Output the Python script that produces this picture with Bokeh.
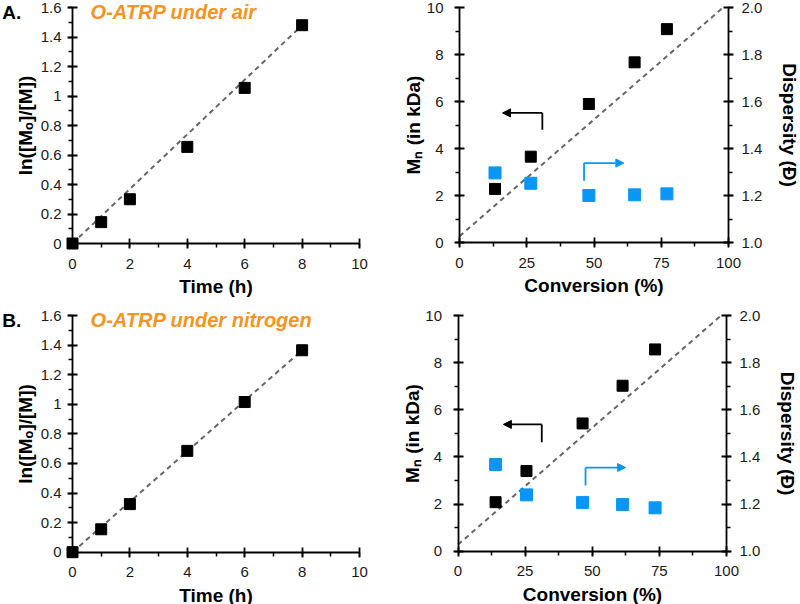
from bokeh.plotting import figure
from bokeh.models import (Range1d, LinearAxis, SingleIntervalTicker, CustomJSTickFormatter,
                          Label, Arrow, NormalHead)
from bokeh.layouts import column, row
from bokeh.embed import file_html
from bokeh.resources import INLINE

FONT = "Liberation Sans"
ORANGE = "#F7931E"
BLUE = "#0A96F5"

# ---------------- data ----------------
time_h = [0, 1, 2, 4, 6, 8]
ln_air = [0, 0.145, 0.30, 0.655, 1.055, 1.48]
ln_n2 = [0, 0.155, 0.325, 0.685, 1.015, 1.365]
fit_time = [0, 8]
fit_ln_air = [0, 1.48]
fit_ln_n2 = [0, 1.365]

conv_air = [13.2, 26.5, 48.1, 65.1, 77.1]
mn_air = [2.29, 3.66, 5.90, 7.67, 9.08]
disp_air = [1.297, 1.253, 1.201, 1.204, 1.208]

conv_n2 = [14.0, 25.5, 46.4, 61.3, 73.4]
mn_n2 = [2.08, 3.40, 5.42, 7.02, 8.56]
disp_n2 = [1.368, 1.239, 1.207, 1.198, 1.184]

theory_conv = [0, 98]
theory_mn = [0.28, 10.0]

# arrows: [x_corner, x_tip, y_corner, y_other_end]
arrow_black_air = [30.8, 16.0, 5.52, 4.80]
arrow_blue_air = [46.3, 61.1, 3.39, 2.64]
arrow_black_n2 = [31.2, 16.9, 5.38, 4.62]
arrow_blue_n2 = [47.5, 62.4, 3.55, 2.79]

panel_letters = ["A.", "B."]
panel_titles = ["O-ATRP under air", "O-ATRP under nitrogen"]

time_bounds = (0, 10)
ln_bounds = (0, 1.6)
conv_bounds = (0, 100)
mn_bounds = (0, 10)
disp_bounds = (1.0, 2.0)


def span_range(v_a, px_a, v_b, px_b, px_start, px_end):
    """Range whose start/end sit at the given canvas pixels, with v_a at px_a and v_b at px_b."""
    k = (v_b - v_a) / (px_b - px_a)
    return Range1d(v_a + (px_start - px_a) * k, v_a + (px_end - px_a) * k)


def style_axis(ax, interval, code, label, bounds, lstand, tstand):
    ax.ticker = SingleIntervalTicker(interval=interval, num_minor_ticks=2)
    ax.formatter = CustomJSTickFormatter(code=code)
    ax.bounds = bounds
    ax.axis_line_width = 1.8
    ax.axis_line_color = "black"
    ax.major_tick_line_width = 1.8
    ax.major_tick_line_color = "black"
    ax.major_tick_in = 5
    ax.major_tick_out = 5
    ax.minor_tick_line_width = 1.5
    ax.minor_tick_line_color = "black"
    ax.minor_tick_in = 0
    ax.minor_tick_out = 4
    ax.major_label_text_font = FONT
    ax.major_label_text_font_size = "15px"
    ax.major_label_text_color = "#1a1a1a"
    ax.major_label_standoff = lstand
    ax.axis_label = label
    ax.axis_label_text_font = FONT
    ax.axis_label_text_font_style = "bold"
    ax.axis_label_text_font_size = "19px"
    ax.axis_label_text_color = "black"
    ax.axis_label_standoff = tstand


NUM_FMT = "return Number(tick.toFixed(2)).toString();"


def base_fig(height, xr, yr):
    p = figure(width=400, height=height, x_range=xr, y_range=yr,
               output_backend="svg", toolbar_location=None,
               min_border_top=0, min_border_bottom=0,
               min_border_left=0, min_border_right=0)
    p.outline_line_color = None
    p.grid.visible = False
    p.background_fill_color = "white"
    p.border_fill_color = "white"
    return p


def make_left(idx, ln, fit_ln, height, py0, py16):
    xr = span_range(0, 72, 10, 359, 0, 400)
    yr = span_range(0, py0, 1.6, py16, height, 0)
    p = base_fig(height, xr, yr)
    style_axis(p.xaxis[0], 2, NUM_FMT, "Time (h)", time_bounds, 10, 4)
    style_axis(p.yaxis[0], 0.2, NUM_FMT, "ln([Mₒ]/[M])", ln_bounds, 6, 2)
    p.xaxis[0].fixed_location = 0
    p.yaxis[0].fixed_location = 0
    p.line(fit_time, fit_ln, line_color="#666666", line_width=2, line_dash="5 4")
    p.scatter(time_h, ln, marker="square", size=11, fill_color="black",
              line_color="black", level="overlay")
    p.add_layout(Label(x=-2.45, y=1.565, text=panel_letters[idx], text_font=FONT,
                       text_font_style="bold", text_font_size="19px",
                       text_baseline="middle", text_align="left", text_color="black"))
    p.add_layout(Label(x=0.63, y=1.57, text=panel_titles[idx], text_font=FONT,
                       text_font_style="bold italic", text_font_size="20px",
                       text_baseline="middle", text_align="left", text_color=ORANGE))
    return p


def add_arrow(p, arr, color):
    xc, xt, yc, yo = arr
    p.add_layout(Arrow(x_start=xc, y_start=yo, x_end=xc, y_end=yc, end=None,
                       line_color=color, line_width=1.8))
    p.add_layout(Arrow(x_start=xc, y_start=yc, x_end=xt, y_end=yc,
                       end=NormalHead(size=8, fill_color=color, line_color=color),
                       line_color=color, line_width=1.8))


def make_right(conv, mn, disp, arr_black, arr_blue, height, px0, px100, py0, py10):
    xr = span_range(0, px0, 100, px100, 0, 400)
    yr = span_range(0, py0, 10, py10, height, 0)
    p = base_fig(height, xr, yr)
    p.extra_y_ranges = {"D": span_range(1.0, py0, 2.0, py10, height, 0)}
    style_axis(p.xaxis[0], 25, NUM_FMT, "Conversion (%)", conv_bounds, 10, 4)
    style_axis(p.yaxis[0], 2, NUM_FMT, "Mₙ (in kDa)", mn_bounds, 11, 0)
    p.xaxis[0].fixed_location = 0
    p.yaxis[0].fixed_location = 0
    rax = LinearAxis(y_range_name="D")
    style_axis(rax, 0.2, "return tick.toFixed(1);", "Dispersity (Đ)", disp_bounds, 8, 14)
    rax.fixed_location = 100
    p.add_layout(rax, "right")
    p.line(theory_conv, theory_mn, line_color="#666666", line_width=2, line_dash="5 4")
    p.scatter(conv, mn, marker="square", size=11, fill_color="black", line_color="black",
              level="overlay")
    p.scatter(conv, disp, marker="square", size=12, fill_color=BLUE, line_color=BLUE,
              y_range_name="D", level="overlay")
    add_arrow(p, arr_black, "black")
    add_arrow(p, arr_blue, BLUE)
    return p


pA1 = make_left(0, ln_air, fit_ln_air, 300, 243, 7)
pA2 = make_right(conv_air, mn_air, disp_air, arrow_black_air, arrow_blue_air, 300,
                 59, 328, 242.3, 7)
pB1 = make_left(1, ln_n2, fit_ln_n2, 304, 251.7, 15)
pB2 = make_right(conv_n2, mn_n2, disp_n2, arrow_black_n2, arrow_blue_n2, 304,
                 57.5, 326, 250.7, 15)

layout = column(row(pA1, pA2, spacing=0), row(pB1, pB2, spacing=0), spacing=0)

open("out.html", "w").write(file_html(layout, INLINE))
